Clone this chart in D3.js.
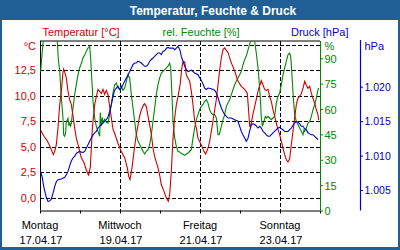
<!DOCTYPE html>
<html><head><meta charset="utf-8">
<script src="https://cdn.jsdelivr.net/npm/d3@7/dist/d3.min.js"></script>
<style>
html,body{margin:0;padding:0;background:#fff;}
svg text{font-family:"Liberation Sans",Arial,sans-serif;}
</style></head>
<body><svg id="c" width="400" height="250"></svg>
<script>
// ---- data ----
const title = "Temperatur, Feuchte & Druck";
const dayNames = ["Montag","Mittwoch","Freitag","Sonntag"];
const dayDates = ["17.04.17","19.04.17","21.04.17","23.04.17"];
const dayLabelHours = [0,48,96,144];
const tempTicks = [0,2.5,5,7.5,10,12.5];
const humTicks = [0,15,30,45,60,75,90];
const presTicks = [1005,1010,1015,1020];

// hours since Mon 17.04.17 00:00
const tempHours = [0.4,2.4,4.2,6.0,8.0,9.0,9.8,10.8,11.8,12.8,13.8,14.2,15.0,15.8,16.8,17.8,18.8,19.8,20.8,21.8,22.8,23.8,24.8,26.4,27.8,28.8,29.2,30.2,30.8,31.4,32.2,32.8,33.8,34.8,36.8,37.8,38.8,39.8,40.8,41.8,42.8,43.8,45.0,46.8,48.8,50.8,52.4,53.2,54.0,55.2,56.4,57.8,58.8,59.8,60.8,62.2,62.8,63.8,64.8,65.8,66.8,67.8,68.8,70.8,71.8,72.8,74.4,75.8,77.0,77.8,78.8,79.8,80.8,81.8,82.8,84.0,85.2,85.8,86.8,87.8,89.8,90.8,91.8,92.8,93.8,94.8,95.8,97.2,98.4,99.4,100.8,101.8,102.8,103.8,104.8,105.8,106.8,107.8,108.8,109.8,110.8,112.8,114.8,116.8,118.8,120.8,122.8,124.4,125.2,125.8,126.3,127.8,129.6,131.2,132.8,134.8,135.8,136.8,137.8,138.8,139.8,140.8,141.8,142.8,143.8,144.8,145.8,146.8,147.8,148.8,149.8,150.8,151.8,152.8,153.8,154.8,155.8,156.8,157.8,158.8,159.8,160.8,161.8,162.8,163.8,164.8,165.8,166.8,167.2];
const tempValues = [6.6,6.0,5.6,5.0,4.2,4.6,5.2,6.8,9.1,10.4,12.3,12.6,12.2,11.7,10.4,9.6,9.1,8.0,6.8,5.8,5.2,4.5,3.9,3.4,2.7,2.3,2.2,3.0,4.85,6.8,8.1,9.1,9.9,10.6,10.2,10.6,10.1,10.5,10.1,8.9,7.8,6.7,6.2,5.3,4.5,3.9,2.9,2.1,1.75,2.9,4.5,6.2,7.1,8.0,8.6,9.1,9.2,8.9,8.0,7.1,6.2,4.85,4.0,2.9,2.2,1.25,0.6,-0.05,-0.37,0.27,2.6,5.8,7.8,9.1,9.9,11.0,12.8,13.3,13.3,12.0,11.4,10.4,9.1,7.5,6.8,5.8,5.5,5.0,4.5,4.25,4.85,5.5,6.5,7.5,8.6,9.6,11.06,12.5,13.7,14.5,14.66,14.2,13.2,12.4,11.4,10.9,10.6,10.2,8.45,7.0,6.9,8.2,9.5,10.7,11.45,10.6,10.5,10.6,9.9,9.4,8.6,7.96,7.3,6.65,6.16,5.5,4.85,4.2,3.7,3.48,3.8,5.2,6.5,7.8,9.1,9.75,9.9,10.2,10.7,11.4,11.0,10.7,10.9,10.2,9.7,9.26,8.6,8.1,7.6];

const humHours = [0.4,1.2,2.0,3.6,7.2,9.6,10.4,11.0,11.8,12.8,13.8,14.2,14.8,15.4,15.8,16.4,16.8,17.4,17.8,18.4,18.8,19.8,20.8,21.8,22.8,23.8,24.8,25.8,26.8,27.8,28.8,29.8,30.4,30.8,31.4,31.8,32.8,33.8,34.8,35.8,36.2,36.8,37.4,37.8,38.8,39.8,40.8,41.8,42.8,43.8,44.8,45.8,46.8,47.8,48.8,49.8,50.8,51.8,52.8,53.8,54.8,55.8,56.8,57.8,58.8,59.8,60.8,61.8,62.8,63.8,64.8,65.8,66.8,67.8,68.8,69.8,70.8,71.8,72.8,74.8,76.8,77.8,78.4,78.8,79.4,79.8,80.8,81.8,82.8,84.0,85.2,86.8,88.8,90.8,91.8,92.8,93.8,94.8,95.8,96.8,97.8,98.8,99.8,100.8,101.8,102.8,103.8,104.8,105.8,106.8,107.4,107.8,108.8,109.8,110.8,111.8,112.8,113.8,114.8,115.8,116.8,117.8,118.8,119.8,120.8,121.8,122.8,123.8,124.8,125.8,126.8,127.8,128.8,129.8,130.8,131.8,132.4,132.8,133.4,134.4,135.2,135.8,136.8,137.8,138.8,139.8,140.8,141.8,142.8,143.8,144.8,145.8,146.8,147.8,148.8,149.8,150.4,150.8,151.4,152.0,152.8,153.8,154.8,155.8,156.8,157.8,158.4,158.8,159.8,160.8,161.8,162.8,163.8,164.8,165.8,166.8,167.2];
const humValues = [82,92,101,106,108,104,100,89,83,66.5,54.7,44.8,43.9,46,52.7,53.5,54.5,50,52,50,51.7,60.6,68.5,74.4,80.3,84.3,87,90.2,92,94.1,96.1,97.1,90.2,82.3,72,64.6,54.7,49.8,46.8,43.9,58,50,55,52,54,52,51.7,57,62.6,69.5,74.4,75.4,72.4,71.5,73.4,71,72.4,76.4,80.3,78.4,68.5,60.6,52.7,44.8,40.9,39,37,35,33.4,35,36,38.9,44.8,52.7,60.6,68.5,74.4,78.4,81.3,83.3,85.3,87.2,84.5,76.4,63,52.7,42.9,38,35,34.5,33.5,32.6,34,36,42.9,48.8,53.7,56.7,59.6,61.6,62.6,64.6,65.5,63.5,59.6,57.5,56.7,56.7,54.7,44.8,44.8,45.8,49.8,53.7,56.7,61.6,63.6,65.5,68.5,71.4,74.4,76.4,78.4,80.3,82.3,86.2,89.2,91.5,95,98.5,101,101.5,100,93,84.3,72.4,62.6,54.7,49.8,52.7,55.7,54.7,55.7,54.7,53.7,54.7,55.7,63.6,67.5,69.5,74.4,80.3,84.3,88.2,92.1,93.1,91,86.2,76.4,66.5,56.7,52.7,50.7,48.8,46.8,44.8,47.8,46.8,48.8,51.7,52.7,55.7,59.6,62.6,66.5,71.4,72.4];

const presHours = [0.4,1.2,2.4,3.8,4.8,5.8,6.8,7.8,8.8,9.8,10.8,12.8,14.8,15.8,16.8,17.8,18.8,19.8,20.8,21.8,22.8,23.8,24.8,25.8,26.8,27.8,28.8,29.8,30.8,31.8,32.8,33.8,34.8,35.8,36.8,37.8,38.8,39.8,40.8,41.8,42.8,43.8,44.8,45.8,46.8,47.8,48.8,49.8,50.8,51.8,52.8,53.8,54.8,55.8,56.8,57.8,58.8,59.8,60.8,61.8,62.8,63.8,64.8,65.8,66.8,67.8,68.8,69.8,70.8,71.8,72.8,73.8,74.8,75.8,76.8,77.8,78.8,79.8,80.8,81.8,82.8,84.0,84.8,85.8,86.8,87.8,88.8,90.8,92.8,94.8,95.8,96.8,97.8,98.8,99.8,100.8,102.8,104.8,105.8,106.8,107.8,108.8,109.8,110.8,112.8,114.8,116.8,118.8,119.8,120.8,121.8,122.8,123.8,124.8,125.8,126.8,127.8,128.8,129.8,130.8,131.8,132.8,133.8,134.8,135.8,136.8,137.8,138.8,139.8,140.8,141.8,142.8,143.8,144.8,145.8,146.8,147.8,148.8,149.8,150.8,151.8,152.8,153.8,154.8,155.8,156.8,157.8,158.8,159.8,160.8,161.8,162.8,163.8,164.8,165.8,166.8];
const presValues = [1007.6,1007.0,1005.3,1003.9,1003.35,1003.4,1003.7,1004.5,1005.5,1006.2,1006.5,1006.6,1006.84,1007.2,1007.7,1008.5,1009.2,1009.65,1009.9,1010.3,1010.47,1010.6,1010.5,1010.45,1010.6,1011.1,1011.58,1012.07,1012.55,1013.0,1013.3,1013.5,1014.0,1014.25,1014.5,1014.73,1015.0,1015.2,1015.6,1016.4,1017.4,1018.6,1019.5,1019.8,1020.06,1019.6,1019.8,1020.3,1020.8,1021.26,1021.7,1022.2,1022.7,1023.2,1023.44,1023.44,1023.7,1023.6,1023.44,1023.2,1022.96,1022.96,1023.2,1023.7,1023.95,1024.17,1024.4,1024.65,1024.9,1024.9,1024.65,1025.14,1025.2,1025.6,1025.7,1025.6,1025.6,1025.6,1025.37,1025.6,1025.86,1025.3,1024.4,1023.7,1023.0,1022.5,1022.2,1022.4,1022.0,1021.74,1021.3,1020.9,1020.4,1019.8,1019.6,1019.8,1019.7,1019.5,1019.1,1018.4,1017.6,1016.9,1016.4,1015.93,1015.45,1015.45,1015.2,1015.0,1014.25,1013.5,1013.0,1012.55,1012.07,1012.5,1013.6,1014.5,1014.6,1014.5,1014.3,1014.0,1014.25,1014.0,1013.5,1013.3,1013.0,1012.8,1012.8,1013.03,1013.3,1013.5,1013.76,1014.0,1014.1,1013.9,1013.76,1013.5,1013.5,1013.5,1013.76,1014.0,1014.4,1014.73,1014.97,1014.85,1014.6,1014.25,1014.25,1013.9,1013.76,1013.3,1013.15,1013.03,1013.03,1012.8,1012.55,1012.3];

// ---- styles ----
const RED="#d00000", GREEN="#008800", BLUE="#0000d0", FRAME="#1f5f96";
const FONT = '"Liberation Sans",Arial,sans-serif';

const svg = d3.select("#c");
const locale = d3.formatLocale({decimal:",",thousands:".",grouping:[3],currency:["","€"]});
const fmtT = locale.format(".1f"), fmtP = locale.format(",d");

// plot box
const L=40, R=320, T=41, B=210.5;
const x = d3.scaleLinear().domain([0,168]).range([L,R]);
const yT = d3.scaleLinear().domain([0,15]).range([197.5,44.5]);
const yH = d3.scaleLinear().domain([0,90]).range([B,58.3]);
const yP = d3.scaleLinear().domain([1005,1020]).range([190,86.7]);

// frame
svg.append("rect").attr("width",400).attr("height",250).attr("fill",FRAME);
svg.append("rect").attr("x",2).attr("y",20).attr("width",396).attr("height",227).attr("fill","#fff");
svg.append("text").attr("x",213).attr("y",14.5).attr("text-anchor","middle")
  .attr("fill","#fff").attr("font-weight","bold").attr("font-size",12).text(title);

// legend row
const leg = [["Temperatur [°C]",42.5,RED],["rel. Feuchte [%]",162.5,GREEN],["Druck [hPa]",291,BLUE]];
svg.selectAll("text.leg").data(leg).enter().append("text").attr("class","leg")
  .attr("x",d=>d[1]).attr("y",36).attr("font-size",11).attr("fill",d=>d[2]).text(d=>d[0]);

// grid
const g = svg.append("g");
g.selectAll("line.hg").data(tempTicks.concat([15])).enter().append("line")
  .attr("x1",L).attr("x2",R).attr("y1",d=>Math.round(yT(d))+0.5).attr("y2",d=>Math.round(yT(d))+0.5)
  .attr("stroke","#000").attr("stroke-dasharray","4,2");
g.selectAll("line.vg").data([48,96,144]).enter().append("line")
  .attr("x1",d=>x(d)+0.5).attr("x2",d=>x(d)+0.5).attr("y1",T).attr("y2",B)
  .attr("stroke","#000").attr("stroke-dasharray","4,2");

// plot frame lines
svg.append("line").attr("x1",L).attr("x2",R).attr("y1",T).attr("y2",T).attr("stroke","#000");
svg.append("line").attr("x1",L+0.5).attr("x2",L+0.5).attr("y1",T).attr("y2",B).attr("stroke","#000");

// clip
svg.append("clipPath").attr("id","clip").append("rect").attr("x",L).attr("y",T).attr("width",R-L).attr("height",B-T);

// lines
const mk = (hs,vs)=>d3.zip(hs,vs);
const lineT = d3.line().x(d=>x(d[0])).y(d=>yT(d[1]));
const lineH = d3.line().x(d=>x(d[0])).y(d=>yH(d[1]));
const lineP = d3.line().x(d=>x(d[0])).y(d=>yP(d[1]));
const lg = svg.append("g").attr("clip-path","url(#clip)");
lg.append("path").datum(mk(humHours,humValues)).attr("d",lineH).attr("fill","none").attr("stroke",GREEN).attr("stroke-width",1.1);
lg.append("path").datum(mk(tempHours,tempValues)).attr("d",lineT).attr("fill","none").attr("stroke",RED).attr("stroke-width",1.1);
lg.append("path").datum(mk(presHours,presValues)).attr("d",lineP).attr("fill","none").attr("stroke",BLUE).attr("stroke-width",1.1);

// bottom axis
const xa = svg.append("g").attr("transform",`translate(0,${B})`)
  .call(d3.axisBottom(x).tickValues(d3.range(0,169,24)).tickSize(3).tickSizeOuter(0).tickFormat(""));
xa.select(".domain").attr("stroke","#000");
xa.selectAll(".tick line").attr("stroke","#000");
svg.selectAll("text.dn").data(dayLabelHours).enter().append("text")
  .attr("x",d=>x(d)).attr("y",229).attr("text-anchor","middle").attr("font-size",11).attr("fill","#000")
  .text((d,i)=>dayNames[i]);
svg.selectAll("text.dd").data(dayLabelHours).enter().append("text")
  .attr("x",d=>x(d)+1).attr("y",243.5).attr("text-anchor","middle").attr("font-size",11).attr("fill","#000")
  .text((d,i)=>dayDates[i]);

// left axis
const la = svg.append("g").attr("transform",`translate(${L},0)`)
  .call(d3.axisLeft(yT).tickValues(tempTicks.concat([15])).tickSize(0).tickPadding(4)
    .tickFormat(d=>d===15?"°C":fmtT(d)));
la.select(".domain").remove();
la.selectAll("text").attr("fill",RED).attr("font-size",11).attr("font-family",FONT).attr("dy","0.36em")
  .attr("transform",d=>d===15?"translate(0,1.5)":null);

// right humidity axis
const ha = svg.append("g").attr("transform",`translate(${R},0)`)
  .call(d3.axisRight(yH).tickValues(humTicks).tickSize(3).tickPadding(1.5).tickSizeOuter(0));
ha.select(".domain").remove();
ha.append("line").attr("x1",0.5).attr("x2",0.5).attr("y1",T).attr("y2",B).attr("stroke",GREEN);
ha.selectAll(".tick line").attr("stroke",GREEN);
ha.selectAll("text").attr("fill",GREEN).attr("font-size",11).attr("font-family",FONT).attr("dy","0.36em");
ha.append("text").attr("x",4.5).attr("y",yT(15)+1.5).attr("dy","0.36em").attr("fill",GREEN)
  .attr("font-size",11).attr("font-family",FONT).text("%");

// pressure axis
const PX = 360;
const pa = svg.append("g").attr("transform",`translate(${PX},0)`)
  .call(d3.axisRight(yP).tickValues(presTicks).tickSize(3).tickPadding(1.5).tickFormat(fmtP));
pa.select(".domain").remove();
pa.append("line").attr("x1",0.5).attr("x2",0.5).attr("y1",T-1).attr("y2",B).attr("stroke",BLUE).attr("stroke-width",1.2);
pa.selectAll(".tick line").attr("stroke",BLUE);
pa.selectAll("text").attr("fill",BLUE).attr("font-size",10.5).attr("font-family",FONT).attr("dy","0.36em");
pa.append("text").attr("x",4.5).attr("y",yT(15)+1.5).attr("dy","0.36em").attr("fill",BLUE)
  .attr("font-size",11).attr("font-family",FONT).text("hPa");
</script></body></html>
